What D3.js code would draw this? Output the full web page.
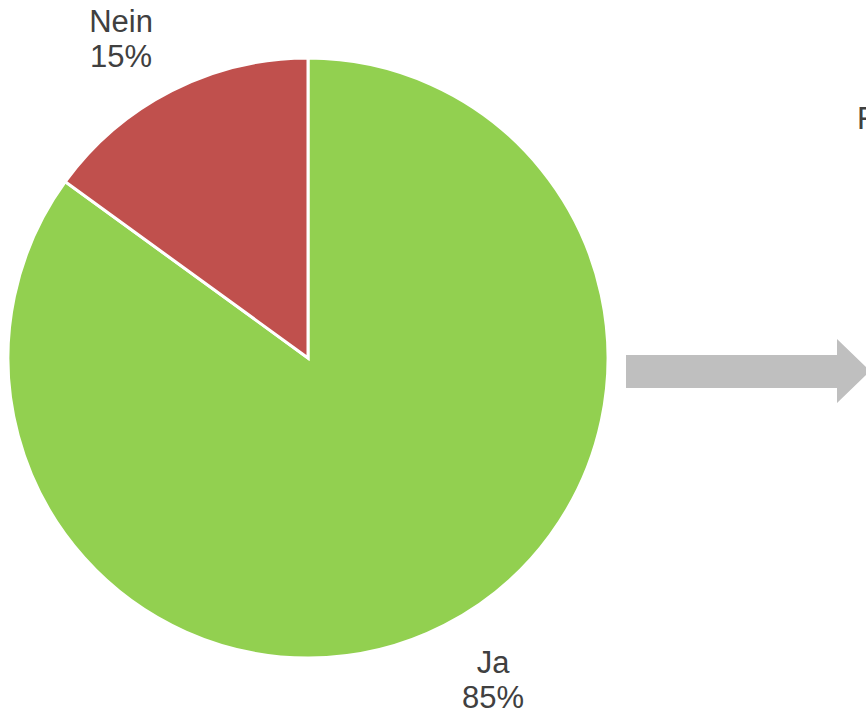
<!DOCTYPE html>
<html>
<head>
<meta charset="utf-8">
<script src="https://cdn.jsdelivr.net/npm/d3@7"></script>
<style>
  html, body { margin: 0; padding: 0; background: #fff; overflow: hidden; }
</style>
</head>
<body>
<svg id="chart"></svg>
<script>
// Data
const categories = ["Ja", "Nein"];
const shares = [85, 15];
const colors = ["#92d050", "#c0504d"];

const width = 866;
const height = 712;
const cx = 308, cy = 358, radius = 300;

const svg = d3.select("#chart")
    .attr("width", width)
    .attr("height", height);

// Pie layout, Ja starts at 12 o'clock going clockwise
const pie = d3.pie().sort(null).value(d => d.value);
const arcs = pie(categories.map((c, i) => ({ name: c, value: shares[i], color: colors[i] })));
const arc = d3.arc().innerRadius(0).outerRadius(radius);

const g = svg.append("g").attr("transform", `translate(${cx},${cy})`);

g.selectAll("path")
    .data(arcs)
    .enter().append("path")
    .attr("d", arc)
    .attr("fill", d => d.data.color)
    .attr("stroke", "#ffffff")
    .attr("stroke-width", 3)
    .attr("stroke-linejoin", "miter");

// label positions (best-fit like placement, relative to the pie centre)
const labelPos = { "Ja": [185, 315], "Nein": [-187, -326] };

const labels = g.selectAll("text.lbl")
    .data(arcs)
    .enter().append("text")
    .attr("class", "lbl")
    .attr("text-anchor", "middle")
    .style("font-family", "Arial, 'Liberation Sans', sans-serif")
    .style("font-size", "31px")
    .style("fill", "#404040");

labels.append("tspan")
    .attr("x", d => labelPos[d.data.name][0])
    .attr("y", d => labelPos[d.data.name][1])
    .text(d => d.data.name);
labels.append("tspan")
    .attr("x", d => labelPos[d.data.name][0])
    .attr("dy", 35)
    .text(d => d.data.value + "%");

// Arrow pointing right
const arrow = [[626, 355], [837, 355], [837, 339], [870, 371], [837, 403], [837, 388], [626, 388]];
svg.append("path")
    .attr("d", d3.line()(arrow) + "Z")
    .attr("fill", "#bfbfbf");

// text cut off at the right edge (as in the original)
svg.append("text")
    .attr("x", 857)
    .attr("y", 129)
    .style("font-family", "Arial, 'Liberation Sans', sans-serif")
    .style("font-size", "31px")
    .style("fill", "#404040")
    .text("F");
</script>
</body>
</html>
